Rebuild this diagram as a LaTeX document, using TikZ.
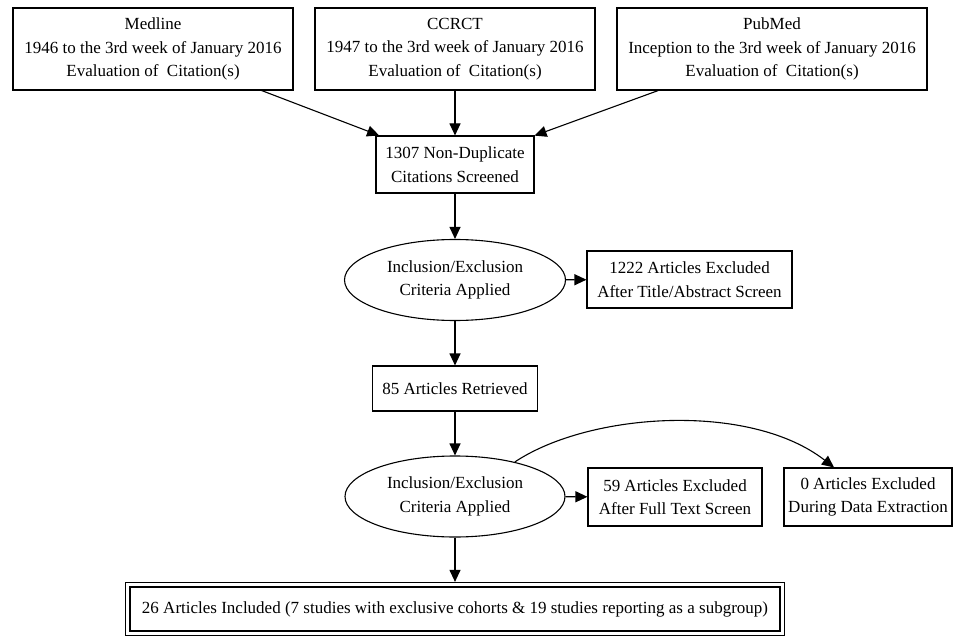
\documentclass[tikz,border=0pt]{standalone}
\usepackage{fontspec}
\setmainfont{Liberation Serif}
\usetikzlibrary{arrows.meta,shapes.geometric,fit}
\begin{document}
\begin{tikzpicture}[x=1pt,y=-1pt,
  every node/.style={font=\fontsize{17}{23.5}\selectfont, align=center, inner sep=0pt},
  boxnode/.style={draw, line width=1.1pt, rectangle},
  ovalnode/.style={draw, line width=1.1pt, ellipse},
  arr/.style={line width=1.1pt, -{Triangle[length=12pt,width=11pt]}}]
\useasboundingbox (0,0) rectangle (955,636);

\node[boxnode, minimum width=280, minimum height=82] (medline) at (153,49)
  {Medline\\1946 to the 3rd week of January 2016\\Evaluation of\ \ Citation(s)};
\node[boxnode, minimum width=280, minimum height=82] (ccrct) at (455,49)
  {CCRCT\\1947 to the 3rd week of January 2016\\Evaluation of\ \ Citation(s)};
\node[boxnode, minimum width=310, minimum height=82] (pubmed) at (772,49)
  {PubMed\\Inception to the 3rd week of January 2016\\Evaluation of\ \ Citation(s)};

\node[boxnode, minimum width=158, minimum height=57] (n1307) at (455,164.5)
  {1307 Non-Duplicate\\Citations Screened};

\node[ovalnode, minimum width=221, minimum height=81] (crit1) at (455,280)
  {Inclusion/Exclusion\\Criteria Applied};
\node[boxnode, minimum width=205, minimum height=57] (ex1222) at (689.5,279.5)
  {1222 Articles Excluded\\After Title/Abstract Screen};

\node[boxnode, minimum width=165, minimum height=45] (n85) at (455,388.5)
  {85 Articles Retrieved};

\node[ovalnode, minimum width=220, minimum height=81] (crit2) at (455,496.5)
  {Inclusion/Exclusion\\Criteria Applied};
\node[boxnode, minimum width=174, minimum height=58] (ex59) at (675,497)
  {59 Articles Excluded\\After Full Text Screen};
\node[boxnode, minimum width=168, minimum height=58] (ex0) at (868,497)
  {0 Articles Excluded\\During Data Extraction};

\node[boxnode, minimum width=650, minimum height=44] (incl) at (455,609)
  {26 Articles Included (7 studies with exclusive cohorts \& 19 studies reporting as a subgroup)};
\node[boxnode, fit=(incl), inner sep=4pt] (inclouter) {};

\draw[arr] (medline) -- (n1307);
\draw[arr] (ccrct) -- (n1307);
\draw[arr] (pubmed) -- (n1307);
\draw[arr] (n1307) -- (crit1);
\draw[arr] (crit1) -- (ex1222);
\draw[arr] (crit1) -- (n85);
\draw[arr] (n85) -- (crit2);
\draw[arr] (crit2) -- (ex59);
\draw[arr] (crit2.30) .. controls (590,412) and (750,402) .. (ex0.139);
\draw[arr] (crit2) -- (inclouter);
\end{tikzpicture}
\end{document}
